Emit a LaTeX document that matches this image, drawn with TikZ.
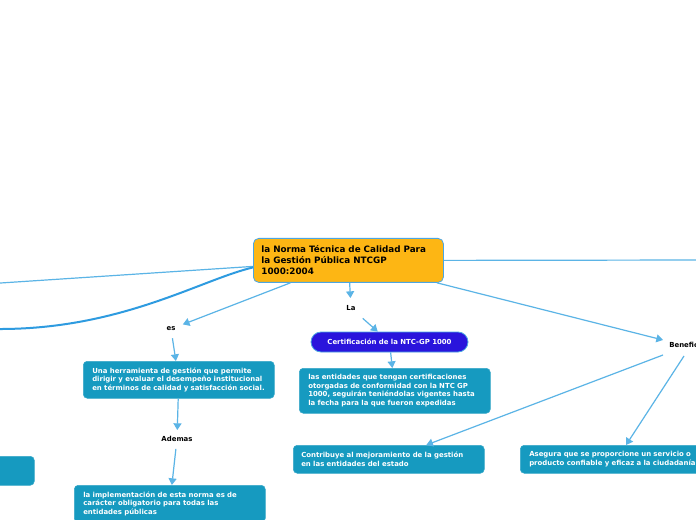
\documentclass[tikz,border=0pt]{standalone}
\usepackage{fontspec}
\setmainfont{DejaVu Sans}
\usetikzlibrary{arrows.meta,calc}
\definecolor{lineblue}{HTML}{5BB4E6}
\definecolor{curveblue}{HTML}{2E9BE0}
\definecolor{nodeblue}{HTML}{169AC0}
\definecolor{certblue}{HTML}{2A14DC}
\definecolor{mainyellow}{HTML}{FDB614}
\definecolor{borderblue}{HTML}{4BA6E2}
\begin{document}
\begin{tikzpicture}[x=0.75pt,y=-0.75pt,
  conn/.style={draw=lineblue, line width=0.9pt},
  arr/.style={conn, -{Triangle[length=5pt,width=6pt]}, color=lineblue},
  box/.style={rectangle, rounded corners=3pt, fill=nodeblue, draw=nodeblue!85!white, text=white,
    anchor=north west, align=left, inner xsep=6.75pt, inner ysep=0pt,
    font=\bfseries\fontsize{5.2}{6.4}\selectfont},
  lbl/.style={font=\bfseries\fontsize{5.2}{6.4}\selectfont, text=black, inner sep=0pt}
]
\useasboundingbox (0,0) rectangle (696,520);
\fill[white] (0,0) rectangle (696,520);
\clip (0,0) rectangle (696,520);

% central node
\node[rectangle, rounded corners=4pt, fill=mainyellow, draw=borderblue, line width=0.6pt,
  anchor=north west, align=left, text width=130.5pt, inner xsep=6pt, inner ysep=0pt,
  minimum height=33pt, font=\bfseries\fontsize{6.6}{8.25}\selectfont, text=black]
  (central) at (253,238) {la Norma Técnica de Calidad Para\\la Gestión Pública NTCGP\\1000:2004};

% labels
\node[lbl] (es) at (171,329) {es};
\node[lbl] (la) at (351,308) {La};
\node[lbl] (ademas) at (177,439) {Ademas};
\node[lbl, anchor=west] (benefi) at (669,345) {Beneficios};

% boxes
\node[box, text width=129.75pt, minimum height=27.75pt] (n1) at (83,361)
  {Una herramienta de gestión que permite\\dirigir y evaluar el desempeño institucional\\en términos de calidad y satisfacción social.};
\node[box, text width=129.75pt, minimum height=27.75pt] (n2) at (74,485)
  {la implementación de esta norma es de\\carácter obligatorio para todas las\\entidades públicas};
\node[box, text width=129.75pt, minimum height=33.75pt] (n3) at (299,368)
  {las entidades que tengan certificaciones\\otorgadas de conformidad con la NTC GP\\1000, seguirán teniéndolas vigentes hasta\\la fecha para la que fueron expedidas};
\node[box, text width=131.25pt, inner xsep=6pt, minimum height=21pt] (n4) at (293,445)
  {Contribuye al mejoramiento de la gestión\\en las entidades del estado};
\node[box, text width=131.25pt, inner xsep=6.75pt, minimum height=21pt] (n5) at (520,445)
  {Asegura que se proporcione un servicio o\\producto confiable y eficaz a la ciudadanía};
\node[box, minimum width=40.5pt, minimum height=21.75pt] (n6) at (-20,456) {};

\node[rectangle, rounded corners=7.5pt, fill=certblue, draw=borderblue, line width=0.6pt,
  minimum width=117.75pt, minimum height=15pt, inner sep=0pt, text=white,
  font=\bfseries\fontsize{5.2}{6.4}\selectfont] (cert) at (389.5,342) {Certificación de la NTC-GP 1000};

% free ends
\coordinate (offL1) at (-4,283.3);
\coordinate (offL2) at (-4,329);
\coordinate (offR) at (706,260);

% connectors
\draw[conn] ($(central.west)+(0,6)$) -- (offL1);
\draw[draw=curveblue, line width=1.5pt] ($(central.west)+(0,7)$) .. controls (200,280) and (120,330) .. (offL2);
\draw[conn] (central.east) -- (offR);

\draw[arr] (central) -- ($(es)!9.5pt!(central)$);
\draw[arr] ($(es)!7pt!(n1)$) -- (n1);
\draw[arr] (n1) -- ($(ademas)!6.75pt!(n1)$);
\draw[arr] ($(ademas)!7.5pt!(n2)$) -- (n2);
\draw[arr] (central) -- ($(la)!7.5pt!(central)$);
\draw[arr] ($(la)!11.7pt!(cert)$) -- (cert);
\draw[arr] (cert) -- (n3);
\draw[arr] (central) -- ($(benefi.west)+(-6,-5)$);
\draw[arr] ($(benefi.west)+(-6,10)$) -- (n4);
\draw[arr] ($(benefi.west)+(15,11)$) -- (n5);
\end{tikzpicture}
\end{document}
